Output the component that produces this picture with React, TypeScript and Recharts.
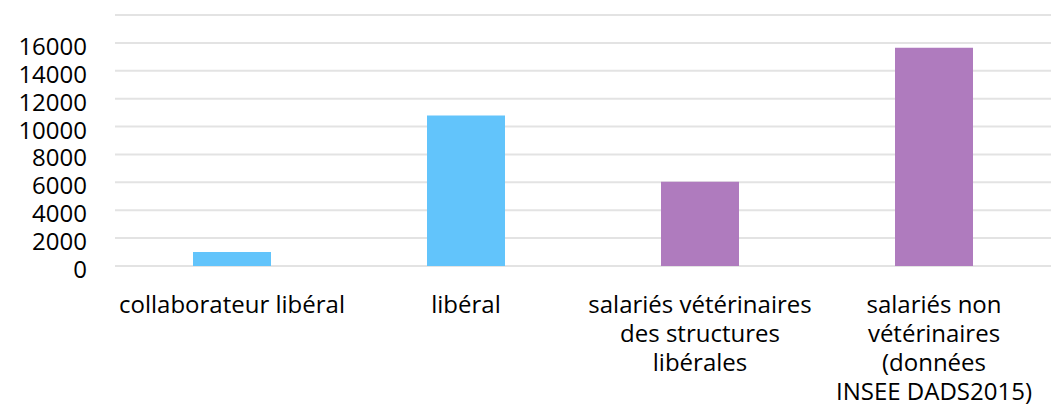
import { Bar, BarChart, CartesianGrid, Cell, XAxis, YAxis } from 'recharts';

const categories = [
  'collaborateur libéral',
  'libéral',
  'salariés vétérinaires\ndes structures\nlibérales',
  'salariés non\nvétérinaires\n(données\nINSEE DADS2015)',
];
const values = [1000, 10800, 6050, 15650];
const barColors = ['#62C4FB', '#62C4FB', '#AF7BBE', '#AF7BBE'];
const yTicks = [0, 2000, 4000, 6000, 8000, 10000, 12000, 14000, 16000, 18000];

const data = categories.map((name, i) => ({ name, value: values[i] }));

const FONT = '"Open Sans", Lato, sans-serif';

function XTick({ x, y, payload }: any) {
  const lines = String(payload.value).split('\n');
  return (
    <text x={x} y={y} textAnchor="middle" fill="#000" fontFamily={FONT} fontSize={24}>
      {lines.map((line, i) => (
        <tspan key={i} x={x} dy={i === 0 ? 39 : 29}>
          {line}
        </tspan>
      ))}
    </text>
  );
}

function YTick({ y, payload }: any) {
  if (payload.value === 18000) return null;
  return (
    <text x={87} y={y + 12} textAnchor="end" fill="#000" fontFamily={FONT} fontSize={24}>
      {payload.value}
    </text>
  );
}

export default function App() {
  return (
    <div style={{ position: 'absolute', left: 0, top: 0, background: '#fff' }}>
      <BarChart width={1051} height={409} data={data} margin={{ top: 15, right: 0, bottom: 0, left: 0 }}>
        <CartesianGrid vertical={false} stroke="#E3E3E3" strokeWidth={2} />
        <XAxis dataKey="name" axisLine={false} tickLine={false} height={143} interval={0} tick={<XTick />} />
        <YAxis
          width={115}
          domain={[0, 18000]}
          ticks={yTicks}
          axisLine={false}
          tickLine={false}
          tick={<YTick />}
        />
        <Bar dataKey="value" barSize={78} isAnimationActive={false}>
          {data.map((d, i) => (
            <Cell key={d.name} fill={barColors[i]} />
          ))}
        </Bar>
      </BarChart>
    </div>
  );
}
